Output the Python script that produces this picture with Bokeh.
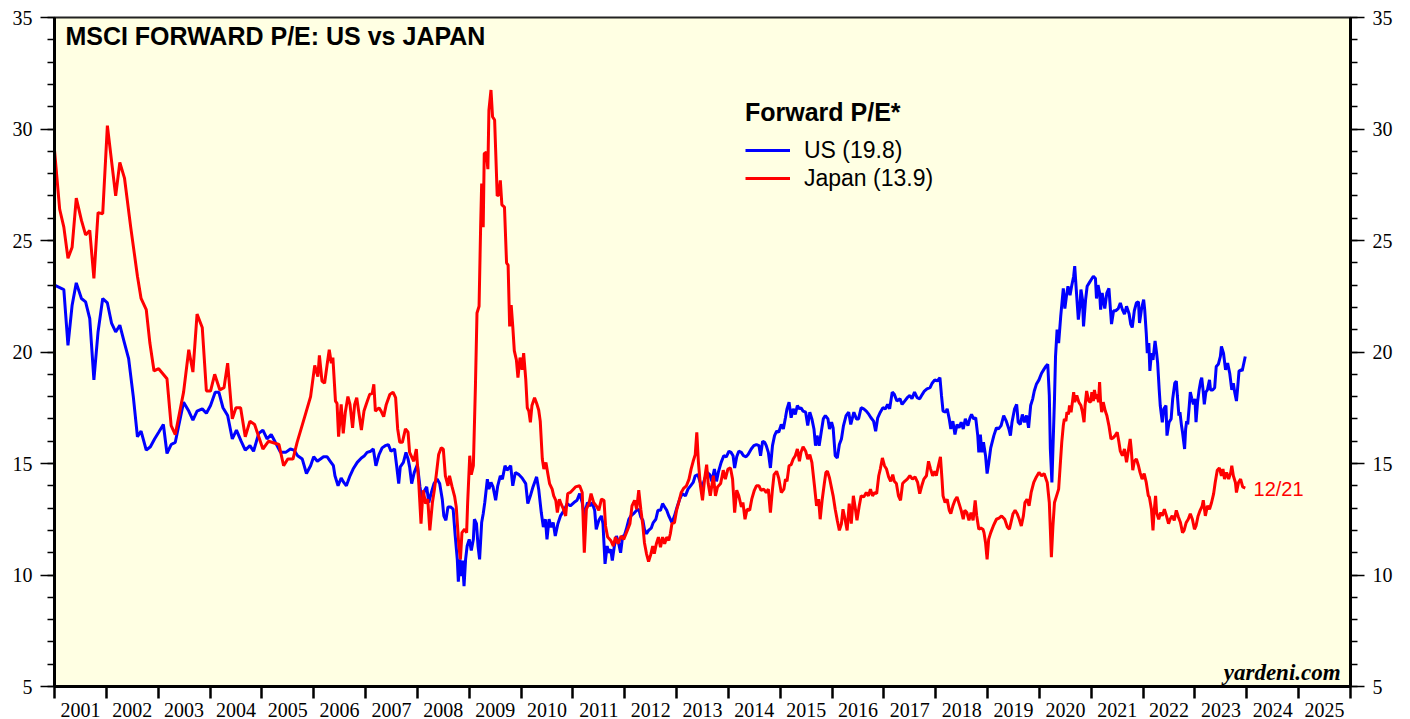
from bokeh.plotting import figure
from bokeh.models import (Range1d, LinearAxis, FixedTicker, SingleIntervalTicker,
                          Legend, LegendItem, Label)
from bokeh.embed import file_html
from bokeh.resources import INLINE

# ---------------- data (decimal years, forward P/E) ----------------
us_t = [2001.00, 2001.18, 2001.26, 2001.34, 2001.42, 2001.52, 2001.60, 2001.68, 2001.76, 2001.84, 2001.93,
        2002.02, 2002.10, 2002.18, 2002.26, 2002.35, 2002.43, 2002.52, 2002.60, 2002.67, 2002.77, 2002.85, 2002.93,
        2003.01, 2003.10, 2003.17, 2003.25, 2003.33, 2003.49, 2003.59, 2003.67, 2003.75, 2003.85, 2003.93,
        2004.01, 2004.10, 2004.17, 2004.25, 2004.34, 2004.43, 2004.51, 2004.60, 2004.68, 2004.77, 2004.84, 2004.94,
        2005.02, 2005.10, 2005.18, 2005.26, 2005.36, 2005.46, 2005.55, 2005.62, 2005.69, 2005.78, 2005.86, 2005.94,
        2006.00, 2006.07, 2006.13, 2006.19, 2006.26, 2006.32, 2006.38, 2006.41, 2006.47, 2006.53, 2006.58, 2006.63,
        2006.70, 2006.76, 2006.84, 2006.92, 2006.98,
        2007.03, 2007.10, 2007.15, 2007.20, 2007.26, 2007.32, 2007.38, 2007.44, 2007.49, 2007.56, 2007.60, 2007.64,
        2007.67, 2007.73, 2007.78, 2007.82, 2007.85, 2007.89, 2007.94,
        2008.00, 2008.05, 2008.09, 2008.14, 2008.18, 2008.22, 2008.27, 2008.32, 2008.38, 2008.43, 2008.48, 2008.51,
        2008.55, 2008.59, 2008.64, 2008.69, 2008.73, 2008.77, 2008.79, 2008.82, 2008.85, 2008.87, 2008.90, 2008.93,
        2008.96,
        2009.00, 2009.04, 2009.08, 2009.10, 2009.14, 2009.17, 2009.20, 2009.24, 2009.27, 2009.30, 2009.35, 2009.38,
        2009.42, 2009.46, 2009.51, 2009.55, 2009.60, 2009.64, 2009.69, 2009.73, 2009.80, 2009.84, 2009.89, 2009.96,
        2010.02, 2010.09, 2010.13, 2010.18, 2010.23, 2010.30, 2010.34, 2010.39, 2010.43, 2010.47, 2010.50, 2010.54,
        2010.58, 2010.62, 2010.66, 2010.71, 2010.76, 2010.83, 2010.89, 2010.95,
        2011.02, 2011.08, 2011.13, 2011.18, 2011.22, 2011.28, 2011.33, 2011.37, 2011.42, 2011.45, 2011.50, 2011.55,
        2011.58, 2011.62, 2011.66, 2011.69, 2011.73, 2011.76, 2011.80, 2011.84, 2011.88, 2011.92, 2011.96, 2011.99,
        2012.03, 2012.08, 2012.12, 2012.17, 2012.23, 2012.27, 2012.31, 2012.35, 2012.38, 2012.42, 2012.46, 2012.51,
        2012.55, 2012.60, 2012.64, 2012.69, 2012.73, 2012.77, 2012.81, 2012.85, 2012.91, 2012.96,
        2013.01, 2013.06, 2013.11, 2013.17, 2013.22, 2013.27, 2013.32, 2013.36, 2013.41, 2013.45, 2013.49, 2013.54,
        2013.59, 2013.64, 2013.68, 2013.73, 2013.77, 2013.81, 2013.86, 2013.91, 2013.96,
        2014.01, 2014.05, 2014.09, 2014.12, 2014.16, 2014.20, 2014.25, 2014.29, 2014.34, 2014.38, 2014.44, 2014.49,
        2014.54, 2014.59, 2014.62, 2014.66, 2014.70, 2014.73, 2014.77, 2014.81, 2014.85, 2014.89, 2014.93, 2014.97,
        2015.02, 2015.06, 2015.10, 2015.13, 2015.17, 2015.21, 2015.25, 2015.29, 2015.33, 2015.37, 2015.40, 2015.44,
        2015.49, 2015.53, 2015.57, 2015.61, 2015.65, 2015.68, 2015.71, 2015.75, 2015.79, 2015.83, 2015.87, 2015.92,
        2015.95, 2015.99,
        2016.02, 2016.06, 2016.10, 2016.14, 2016.18, 2016.22, 2016.27, 2016.32, 2016.36, 2016.42, 2016.47, 2016.51,
        2016.56, 2016.61, 2016.66, 2016.71, 2016.75, 2016.80, 2016.84, 2016.88, 2016.93, 2016.98,
        2017.03, 2017.07, 2017.11, 2017.16, 2017.20, 2017.25, 2017.31, 2017.35, 2017.40, 2017.45, 2017.50, 2017.54,
        2017.59, 2017.64, 2017.69, 2017.74, 2017.78, 2017.83, 2017.89, 2017.93, 2017.98,
        2018.03, 2018.08, 2018.11, 2018.14, 2018.19, 2018.22, 2018.26, 2018.29, 2018.33, 2018.37, 2018.41, 2018.45,
        2018.49, 2018.53, 2018.57, 2018.62, 2018.66, 2018.69, 2018.73, 2018.77, 2018.81, 2018.83, 2018.86, 2018.89,
        2018.92, 2018.96, 2018.99,
        2019.02, 2019.06, 2019.12, 2019.17, 2019.21, 2019.26, 2019.31, 2019.36, 2019.41, 2019.44, 2019.47, 2019.52,
        2019.56, 2019.59, 2019.63, 2019.67, 2019.71, 2019.75, 2019.79, 2019.83, 2019.87, 2019.90, 2019.94, 2019.99,
        2020.04, 2020.08, 2020.12, 2020.16, 2020.19, 2020.21, 2020.24, 2020.26, 2020.29, 2020.31, 2020.34, 2020.37,
        2020.41, 2020.44, 2020.46, 2020.49, 2020.52, 2020.55, 2020.59, 2020.62, 2020.66, 2020.68, 2020.71, 2020.75,
        2020.78, 2020.80, 2020.83, 2020.85, 2020.89, 2020.92, 2020.96,
        2021.00, 2021.04, 2021.08, 2021.10, 2021.13, 2021.16, 2021.18, 2021.21, 2021.23, 2021.26, 2021.30, 2021.34,
        2021.36, 2021.39, 2021.43, 2021.47, 2021.52, 2021.56, 2021.60, 2021.64, 2021.68, 2021.73, 2021.76, 2021.79,
        2021.83, 2021.87, 2021.91, 2021.93, 2021.97,
        2022.01, 2022.03, 2022.06, 2022.08, 2022.11, 2022.13, 2022.16, 2022.19, 2022.23, 2022.26, 2022.28, 2022.31,
        2022.33, 2022.37, 2022.40, 2022.44, 2022.46, 2022.50, 2022.54, 2022.57, 2022.61, 2022.64, 2022.66, 2022.69,
        2022.71, 2022.74, 2022.76, 2022.80, 2022.82, 2022.84, 2022.86, 2022.89, 2022.91, 2022.94, 2022.97,
        2023.00, 2023.02, 2023.05, 2023.08, 2023.11, 2023.13, 2023.16, 2023.18, 2023.21, 2023.24, 2023.28, 2023.30,
        2023.34, 2023.38, 2023.41, 2023.45, 2023.49, 2023.51, 2023.55, 2023.59, 2023.63, 2023.67, 2023.71, 2023.74,
        2023.77, 2023.80, 2023.82, 2023.85, 2023.89, 2023.91, 2023.97]
us_v = [23.0, 22.8, 20.3, 22.1, 23.1, 22.4, 22.25, 21.5, 18.75, 20.9, 22.4,
        22.2, 21.3, 20.9, 21.2, 20.4, 19.7, 18.0, 16.2, 16.45, 15.6, 15.75, 16.1,
        16.4, 16.75, 15.45, 15.85, 15.95, 17.75, 17.35, 16.95, 17.35, 17.45, 17.25,
        17.6, 18.2, 18.2, 17.5, 17.15, 16.1, 16.5, 16.0, 15.6, 15.8, 15.55, 16.35,
        16.5, 16.1, 16.3, 15.95, 15.5, 15.5, 15.65, 15.6, 15.35, 15.2, 14.55, 14.9,
        15.3, 15.1, 15.2, 15.3, 15.3, 15.1, 14.9, 14.45, 14.0, 14.35, 14.15, 14.0,
        14.45, 14.75, 15.05, 15.25, 15.35,
        15.5, 15.55, 15.65, 14.9, 15.4, 15.7, 15.8, 15.85, 15.55, 15.65, 14.9, 14.1,
        14.85, 15.05, 15.5, 15.2, 14.85, 14.1, 14.6,
        14.95, 13.95, 13.35, 13.8, 13.95, 13.25, 13.7, 14.1, 14.3, 14.1, 13.4, 12.65,
        12.45, 13.05, 13.05, 12.95, 11.75, 10.7, 9.7, 10.7, 9.95, 10.65, 9.5, 10.7,
        11.3,
        11.6, 11.1, 11.6, 12.5, 12.3, 11.3, 10.7, 12.35, 12.75, 13.25, 14.3, 13.85,
        14.15, 13.95, 13.35, 14.0, 14.45, 14.3, 14.9, 14.7, 14.9, 14.0, 14.6, 14.5,
        14.35, 14.1, 13.2, 13.55, 13.95, 14.4, 13.85, 12.8, 12.15, 12.5, 11.6, 12.5,
        12.15, 12.35, 11.75, 12.3, 12.65, 12.9, 13.2, 13.1,
        13.25, 13.35, 13.65, 13.25, 12.65, 13.25, 13.1, 13.25, 12.9, 12.05, 12.45, 12.65,
        12.3, 10.5, 11.3, 11.0, 11.15, 10.65, 11.3, 11.75, 11.45, 11.0, 11.75, 11.75,
        12.05, 12.5, 12.65, 12.75, 12.9, 12.95, 12.6, 12.45, 12.05, 11.85, 12.0, 12.1,
        12.35, 12.5, 12.9, 12.9, 13.2, 13.05, 12.9, 12.65, 12.35, 12.65,
        13.05, 13.4, 13.65, 13.55, 13.85, 14.0, 14.15, 14.45, 14.5, 14.2, 13.9, 14.3,
        14.6, 14.5, 14.2, 14.75, 14.2, 14.65, 15.05, 15.35, 15.3,
        15.55, 15.5, 15.35, 14.8, 15.3, 15.55, 15.5, 15.35, 15.3, 15.4, 15.65, 15.8,
        15.85, 15.8, 15.35, 16.0, 15.95, 15.8, 15.5, 14.8, 15.8, 16.25, 16.45, 16.4,
        16.75, 16.55, 17.05, 17.45, 17.75, 17.05, 17.45, 17.2, 17.6, 17.45, 17.5, 17.35,
        17.3, 16.7, 17.3, 17.0, 16.55, 15.8, 16.25, 15.8, 16.4, 17.0, 17.15, 17.0,
        16.55, 16.85,
        16.6, 15.35, 15.25, 15.85, 16.1, 16.7, 17.15, 17.3, 16.75, 17.3, 17.0, 17.0,
        17.5, 17.45, 17.35, 17.2, 17.05, 16.9, 16.45, 17.05, 17.3, 17.5,
        17.45, 17.65, 17.45, 18.2, 18.1, 17.8, 17.9, 17.65, 17.8, 17.95, 18.05, 17.9,
        18.2, 17.95, 17.9, 18.1, 18.25, 18.35, 18.4, 18.6, 18.75,
        18.7, 18.85, 18.05, 17.35, 17.3, 17.45, 17.0, 16.55, 16.9, 16.3, 16.75, 16.6,
        16.85, 16.55, 17.0, 16.7, 17.05, 17.2, 17.0, 17.05, 16.25, 15.5, 16.3, 15.5,
        15.95, 15.35, 14.55,
        15.0, 15.7, 16.25, 16.6, 16.55, 16.7, 17.15, 16.9, 16.55, 16.25, 16.85, 17.45,
        17.65, 16.85, 16.75, 17.2, 16.85, 17.15, 16.6, 17.6, 17.9, 18.25, 18.55, 18.75,
        19.05, 19.2, 19.35, 19.45, 18.05, 15.65, 14.15, 15.65, 17.9, 19.8, 21.0, 20.4,
        21.6, 22.35, 22.85, 21.95, 22.5, 22.95, 22.55, 22.95, 23.4, 23.85, 22.8, 21.45,
        22.05, 22.8, 22.35, 21.15, 22.35, 22.95, 23.1,
        23.25, 23.4, 23.3, 22.4, 23.0, 22.65, 21.9, 22.65, 22.35, 21.95, 22.65, 22.85,
        22.2, 21.25, 21.85, 21.85, 21.95, 22.2, 21.9, 21.7, 22.05, 21.7, 21.25, 21.1,
        21.85, 22.2, 22.25, 21.3, 21.95,
        22.35, 21.9, 20.85, 19.95, 20.4, 19.15, 19.95, 19.65, 20.5, 19.95, 19.5, 18.3,
        17.6, 16.85, 17.45, 17.6, 16.25, 16.85, 17.0, 17.9, 18.6, 18.7, 18.05, 17.15,
        17.3, 16.7, 16.4, 15.65, 16.55, 16.9, 16.75, 17.6, 18.2, 17.9, 17.65,
        17.9, 16.85, 17.75, 18.3, 18.7, 18.85, 18.2, 17.65, 18.2, 18.3, 18.75, 18.3,
        18.3, 18.4, 19.35, 19.45, 19.8, 20.25, 19.95, 19.2, 19.5, 19.05, 18.3, 18.6,
        18.15, 17.8, 18.3, 19.15, 19.2, 19.15, 19.8]

jp_t = [2001.00, 2001.10, 2001.18, 2001.26, 2001.34, 2001.42, 2001.52, 2001.60, 2001.68, 2001.76, 2001.84, 2001.93,
        2002.02, 2002.18, 2002.26, 2002.35, 2002.47, 2002.60, 2002.67, 2002.77, 2002.84, 2002.92,
        2003.01, 2003.17, 2003.25, 2003.33, 2003.49, 2003.59, 2003.67, 2003.75, 2003.85, 2003.93,
        2004.01, 2004.09, 2004.19, 2004.27, 2004.34, 2004.43, 2004.50, 2004.59, 2004.68, 2004.77, 2004.86,
        2005.02, 2005.13, 2005.33, 2005.42, 2005.50, 2005.60, 2005.68, 2005.84, 2005.94,
        2006.02, 2006.08, 2006.11, 2006.16, 2006.21, 2006.26, 2006.30, 2006.34, 2006.37, 2006.42, 2006.45, 2006.48,
        2006.53, 2006.57, 2006.61, 2006.66, 2006.70, 2006.75, 2006.79, 2006.83, 2006.87, 2006.92, 2006.97,
        2007.02, 2007.08, 2007.13, 2007.16, 2007.19, 2007.26, 2007.30, 2007.35, 2007.40, 2007.47, 2007.53, 2007.58,
        2007.62, 2007.66, 2007.71, 2007.77, 2007.82, 2007.85, 2007.93, 2007.98,
        2008.03, 2008.07, 2008.11, 2008.16, 2008.20, 2008.24, 2008.29, 2008.33, 2008.37, 2008.41, 2008.46, 2008.50,
        2008.54, 2008.59, 2008.62, 2008.67, 2008.72, 2008.75, 2008.80, 2008.83, 2008.86, 2008.91, 2008.95, 2008.97,
        2009.01, 2009.04, 2009.08, 2009.12, 2009.15, 2009.19, 2009.22, 2009.24, 2009.27, 2009.29, 2009.33, 2009.36,
        2009.38, 2009.42, 2009.45, 2009.49, 2009.51, 2009.54, 2009.57, 2009.60, 2009.63, 2009.68, 2009.72, 2009.75,
        2009.78, 2009.81, 2009.84, 2009.87, 2009.91, 2009.94, 2009.98,
        2010.02, 2010.05, 2010.09, 2010.12, 2010.15, 2010.18, 2010.21, 2010.26, 2010.30, 2010.34, 2010.37, 2010.41,
        2010.44, 2010.48, 2010.52, 2010.55, 2010.60, 2010.63, 2010.67, 2010.70, 2010.74, 2010.77, 2010.81, 2010.86,
        2010.90, 2010.95,
        2011.05, 2011.13, 2011.18, 2011.22, 2011.26, 2011.31, 2011.35, 2011.40, 2011.45, 2011.50, 2011.55, 2011.60,
        2011.63, 2011.67, 2011.73, 2011.78, 2011.82, 2011.87, 2011.93, 2011.98,
        2012.05, 2012.10, 2012.14, 2012.19, 2012.23, 2012.27, 2012.31, 2012.35, 2012.38, 2012.42, 2012.46, 2012.50,
        2012.54, 2012.57, 2012.61, 2012.65, 2012.69, 2012.73, 2012.77, 2012.81, 2012.85, 2012.88, 2012.91, 2012.96,
        2013.00, 2013.04, 2013.09, 2013.14, 2013.19, 2013.24, 2013.28, 2013.32, 2013.36, 2013.39, 2013.42, 2013.46,
        2013.50, 2013.54, 2013.58, 2013.61, 2013.65, 2013.71, 2013.75, 2013.79, 2013.85, 2013.90, 2013.94, 2013.99,
        2014.04, 2014.08, 2014.12, 2014.16, 2014.20, 2014.25, 2014.28, 2014.32, 2014.36, 2014.41, 2014.45, 2014.50,
        2014.54, 2014.59, 2014.63, 2014.68, 2014.73, 2014.77, 2014.81, 2014.85, 2014.88, 2014.93, 2014.97,
        2015.02, 2015.07, 2015.10, 2015.13, 2015.17, 2015.21, 2015.25, 2015.29, 2015.33, 2015.37, 2015.40, 2015.44,
        2015.49, 2015.53, 2015.57, 2015.61, 2015.66, 2015.70, 2015.74, 2015.77, 2015.81, 2015.85, 2015.88, 2015.91,
        2015.95,
        2016.02, 2016.06, 2016.10, 2016.14, 2016.18, 2016.21, 2016.25, 2016.29, 2016.33, 2016.37, 2016.41, 2016.45,
        2016.48, 2016.52, 2016.56, 2016.61, 2016.66, 2016.70, 2016.74, 2016.78, 2016.82, 2016.86, 2016.90, 2016.93,
        2016.97,
        2017.01, 2017.05, 2017.09, 2017.13, 2017.17, 2017.20, 2017.24, 2017.28, 2017.32, 2017.36, 2017.40, 2017.45,
        2017.50, 2017.55, 2017.60, 2017.65, 2017.69, 2017.73, 2017.77, 2017.82, 2017.86, 2017.90, 2017.94, 2017.98,
        2018.01, 2018.05, 2018.09, 2018.12, 2018.14, 2018.18, 2018.22, 2018.26, 2018.29, 2018.33, 2018.37, 2018.41,
        2018.45, 2018.49, 2018.53, 2018.56, 2018.60, 2018.64, 2018.68, 2018.72, 2018.76, 2018.79, 2018.83, 2018.87,
        2018.91, 2018.93, 2018.96, 2018.99,
        2019.02, 2019.06, 2019.11, 2019.17, 2019.22, 2019.27, 2019.33, 2019.38, 2019.42, 2019.46, 2019.49, 2019.53,
        2019.57, 2019.61, 2019.65, 2019.69, 2019.72, 2019.76, 2019.80, 2019.84, 2019.89, 2019.94, 2019.99,
        2020.04, 2020.09, 2020.15, 2020.19, 2020.21, 2020.23, 2020.26, 2020.29, 2020.33, 2020.37, 2020.40, 2020.43,
        2020.46, 2020.48, 2020.51, 2020.53, 2020.56, 2020.58, 2020.61, 2020.63, 2020.66, 2020.68, 2020.72, 2020.76,
        2020.80, 2020.83, 2020.86, 2020.88, 2020.91, 2020.95, 2020.99,
        2021.01, 2021.04, 2021.06, 2021.09, 2021.11, 2021.14, 2021.16, 2021.18, 2021.20, 2021.23, 2021.27, 2021.30,
        2021.34, 2021.38, 2021.42, 2021.46, 2021.50, 2021.53, 2021.56, 2021.60, 2021.64, 2021.68, 2021.72, 2021.75,
        2021.77, 2021.80, 2021.83, 2021.87, 2021.91, 2021.94, 2021.98,
        2022.02, 2022.06, 2022.10, 2022.12, 2022.16, 2022.19, 2022.21, 2022.24, 2022.26, 2022.30, 2022.34, 2022.37,
        2022.41, 2022.45, 2022.49, 2022.52, 2022.56, 2022.60, 2022.64, 2022.68, 2022.72, 2022.76, 2022.79, 2022.83,
        2022.87, 2022.91, 2022.95, 2022.99,
        2023.02, 2023.06, 2023.10, 2023.14, 2023.16, 2023.20, 2023.24, 2023.28, 2023.32, 2023.36, 2023.39, 2023.43,
        2023.47, 2023.51, 2023.54, 2023.57, 2023.61, 2023.65, 2023.69, 2023.71, 2023.74, 2023.78, 2023.80, 2023.84,
        2023.88, 2023.92, 2023.97]
jp_v = [29.05, 26.4, 25.6, 24.2, 24.7, 26.9, 25.9, 25.25, 25.45, 23.3, 26.25, 26.2,
        30.15, 27.0, 28.5, 27.8, 25.6, 23.4, 22.4, 21.9, 20.4, 19.15,
        19.25, 18.8, 16.7, 16.3, 18.2, 20.1, 19.1, 21.7, 21.1, 18.25,
        18.25, 19.0, 18.3, 18.4, 19.5, 17.0, 17.5, 17.5, 16.2, 16.9, 16.75,
        15.65, 16.0, 15.85, 14.9, 15.2, 15.2, 15.95, 17.2, 18.0,
        19.4, 18.9, 19.85, 18.7, 18.6, 19.45, 20.1, 19.5, 19.75, 17.8, 17.7, 16.2,
        17.65, 16.35, 17.3, 18.0, 17.65, 16.6, 17.65, 17.95, 17.3, 16.5, 17.35,
        17.7, 18.1, 18.15, 18.55, 17.35, 17.5, 17.35, 17.1, 17.65, 18.1, 18.2, 17.95,
        16.55, 15.95, 15.95, 16.55, 16.4, 15.5, 15.1, 15.65,
        14.0, 12.3, 13.8, 13.2, 13.4, 12.0, 13.25, 13.85, 14.6, 15.4, 15.7, 15.65,
        14.45, 14.0, 14.45, 13.95, 13.5, 13.05, 11.3, 10.7, 11.9, 12.05, 11.9, 13.25,
        15.35, 14.5, 14.9, 18.5, 21.75, 22.05, 25.6, 27.55, 25.6, 28.9, 28.95, 28.2,
        30.85, 31.75, 30.55, 30.4, 29.05, 27.0, 27.05, 27.7, 26.6, 26.5, 24.0, 23.9,
        21.15, 22.1, 21.15, 20.05, 19.65, 18.85, 19.75,
        19.2, 19.95, 18.8, 17.5, 17.35, 16.85, 17.6, 17.95, 17.7, 17.4, 16.9, 15.2,
        14.75, 15.05, 14.5, 14.1, 13.85, 13.55, 13.35, 12.8, 13.4, 13.2, 13.0, 12.65,
        13.65, 13.7,
        13.95, 14.0, 13.7, 11.0, 12.95, 13.2, 13.65, 13.25, 13.1, 12.9, 13.4, 13.35,
        12.2, 11.7, 11.55, 11.3, 11.7, 11.4, 11.75, 11.6,
        12.0, 12.3, 13.1, 13.35, 12.95, 13.8, 12.95, 12.2, 11.45, 10.95, 10.6, 10.9,
        11.3, 10.95, 11.4, 11.7, 11.25, 11.7, 11.4, 11.7, 11.55, 11.85, 12.3, 12.35,
        12.9, 13.25, 13.7, 13.9, 14.0, 14.3, 14.75, 15.1, 15.4, 16.4, 15.1, 14.0,
        13.35, 14.3, 14.95, 14.1, 13.55, 14.45, 13.55, 13.95, 14.1, 14.7, 14.3, 14.75,
        14.8, 14.3, 12.8, 13.8, 13.55, 13.05, 13.25, 12.5, 12.95, 12.9, 13.4, 13.8,
        14.0, 14.0, 13.8, 13.85, 13.7, 13.85, 12.8, 13.85, 14.5, 14.65, 14.35,
        13.7, 13.85, 14.3, 14.2, 14.9, 14.95, 15.2, 15.35, 15.65, 15.1, 15.5, 15.75,
        15.55, 15.2, 15.4, 15.05, 14.0, 13.1, 13.4, 12.5, 13.4, 14.1, 14.6, 14.65,
        14.35,
        13.55, 12.95, 12.45, 12.0, 12.3, 12.95, 12.5, 12.0, 13.2, 12.3, 13.55, 12.95,
        12.45, 13.05, 13.55, 13.5, 13.7, 13.55, 13.85, 13.55, 13.7, 13.65, 14.45, 14.75,
        15.25,
        14.9, 14.75, 14.4, 14.2, 14.5, 14.2, 14.1, 13.55, 13.35, 14.1, 14.2, 14.3,
        14.45, 14.3, 14.4, 14.15, 13.65, 14.0, 14.3, 14.45, 15.1, 14.75, 14.45, 14.65,
        14.45, 14.9, 15.3, 14.3, 13.55, 13.25, 13.4, 12.9, 12.75, 13.1, 13.35, 13.5,
        13.2, 12.9, 12.5, 12.9, 12.8, 12.45, 12.8, 12.45, 13.35, 12.65, 12.05, 12.1,
        12.05, 11.9, 11.45, 10.7,
        11.6, 11.9, 12.2, 12.5, 12.55, 12.65, 12.5, 12.15, 12.05, 12.45, 12.75, 12.9,
        12.75, 12.5, 12.2, 12.65, 13.25, 13.4, 13.1, 13.7, 14.15, 14.4, 14.6,
        14.45, 14.55, 14.15, 13.25, 12.05, 10.8, 12.2, 13.25, 13.55, 13.85, 14.9, 15.95,
        16.7, 17.0, 16.9, 17.3, 17.2, 17.6, 17.3, 17.65, 18.2, 17.75, 18.05, 17.75,
        17.6, 17.3, 16.85, 17.6, 18.25, 17.8, 17.75,
        18.2, 17.8, 18.3, 17.9, 18.1, 17.75, 18.65, 17.75, 17.3, 17.75, 17.35, 17.15,
        16.7, 16.1, 16.15, 16.25, 16.4, 16.0, 15.55, 15.35, 15.65, 15.05, 15.65, 16.1,
        15.65, 14.7, 15.1, 15.2, 14.9, 14.6, 14.3,
        14.55, 14.15, 13.55, 13.5, 12.95, 12.0, 12.8, 13.55, 12.8, 12.5, 12.8, 12.65,
        12.95, 12.65, 12.3, 12.5, 12.65, 12.45, 12.9, 12.6, 12.35, 11.9, 12.0, 12.35,
        12.5, 12.75, 12.5, 12.05,
        12.2, 12.65, 12.9, 13.1, 13.35, 12.65, 13.1, 12.95, 13.25, 13.65, 14.15, 14.7,
        14.8, 14.45, 14.75, 14.3, 14.6, 14.3, 14.6, 14.9, 14.45, 14.15, 13.7, 14.15,
        14.3, 13.95, 13.9]

years = list(range(2001, 2026))
year_labels = [str(y) for y in years]
legend_title = "Forward P/E*"
us_label = "US (19.8)"
jp_label = "Japan (13.9)"
last_date = "12/21"

# ---------------- figure ----------------
p = figure(width=1410, height=719, x_range=Range1d(2001, 2026), y_range=Range1d(5, 35),
           output_backend="svg", toolbar_location=None, x_axis_type=None, y_axis_type=None,
           min_border_left=54, min_border_right=60, min_border_top=17, min_border_bottom=31)
p.background_fill_color = "#FFFFE3"
p.border_fill_color = "white"
p.outline_line_color = "#222222"
p.outline_line_width = 2

# bottom axis: year labels mid-year, tick marks at year boundaries (minor ticks)
mid = [y + 0.5 for y in years]
xa = LinearAxis(ticker=FixedTicker(ticks=mid, minor_ticks=years + [2026]),
                major_label_overrides={m: s for m, s in zip(mid, year_labels)},
                major_tick_out=0, major_tick_in=0, minor_tick_out=12, minor_tick_in=0,
                major_label_text_font="Liberation Serif", major_label_text_font_size="20px",
                major_label_text_color="black", major_label_standoff=4,
                axis_line_width=3, axis_line_color="black",
                minor_tick_line_width=2.5, minor_tick_line_color="black")
p.add_layout(xa, "below")

def make_yaxis():
    return LinearAxis(ticker=SingleIntervalTicker(interval=5, num_minor_ticks=5),
                      major_tick_out=14, major_tick_in=0, minor_tick_out=7, minor_tick_in=0,
                      major_label_text_font="Liberation Serif", major_label_text_font_size="20px",
                      major_label_text_color="black", major_label_standoff=8,
                      axis_line_width=3, axis_line_color="black",
                      major_tick_line_width=1.5, major_tick_line_color="black",
                      minor_tick_line_width=1.5, minor_tick_line_color="black")

p.add_layout(make_yaxis(), "left")
p.add_layout(make_yaxis(), "right")

us_r = p.line(us_t, us_v, line_color="#0000FF", line_width=3)
jp_r = p.line(jp_t, jp_v, line_color="#FF0000", line_width=3)

# title
p.add_layout(Label(x=2001.21, y=34.15, text="MSCI FORWARD P/E: US vs JAPAN",
                   text_font="Liberation Sans", text_font_style="bold", text_font_size="25px",
                   text_baseline="middle", text_align="left", text_color="black"))

# legend
leg = Legend(items=[LegendItem(label=us_label, renderers=[us_r]),
                    LegendItem(label=jp_label, renderers=[jp_r])],
             title=legend_title, location=(691, 494),
             title_text_font="Liberation Sans", title_text_font_style="bold",
             title_text_font_size="25px", title_text_color="black", title_standoff=9,
             label_text_font="Liberation Sans", label_text_font_size="23px",
             label_text_color="black",
             label_standoff=14, glyph_width=45, glyph_height=28, label_height=28,
             spacing=0, padding=0, margin=0, border_line_color=None,
             background_fill_alpha=0)
p.add_layout(leg, "center")

p.add_layout(Label(x=2024.13, y=13.86, text=last_date, text_font="Liberation Sans",
                   text_font_size="20px", text_color="#FF0000", text_baseline="middle",
                   text_align="left"))
p.add_layout(Label(x=2025.81, y=5.63, text="yardeni.com", text_font="Liberation Serif",
                   text_font_style="bold italic", text_font_size="23px", text_color="black",
                   text_baseline="middle", text_align="right"))

open("out.html", "w").write(file_html(p, INLINE))
